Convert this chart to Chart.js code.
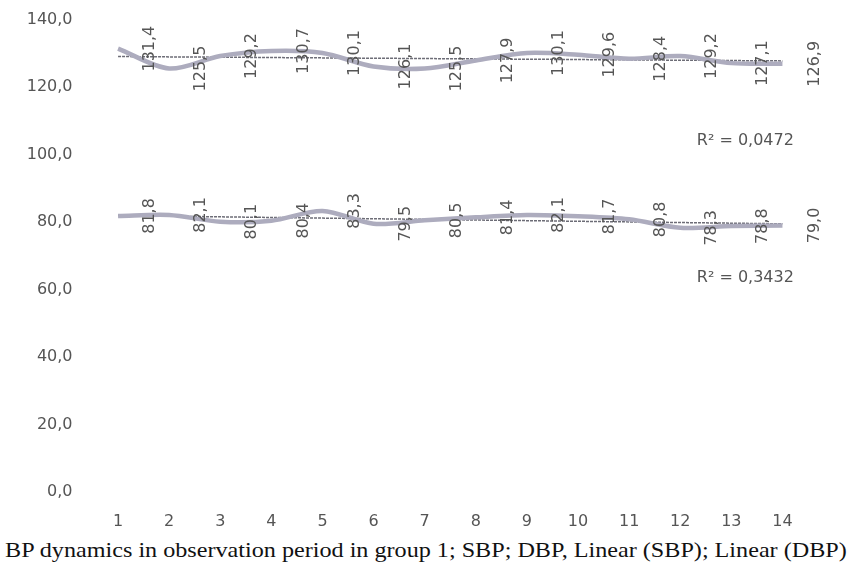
<!DOCTYPE html>
<html>
<head>
<meta charset="utf-8">
<script src="https://cdn.jsdelivr.net/npm/chart.js@4.4.1/dist/chart.umd.min.js"></script>
<style>
  body { margin: 0; background: #fff; overflow: hidden; }
  #wrap { position: relative; width: 851px; height: 547px; margin-top: -10px; }
  #caption {
    width: 851px; text-align: center; white-space: nowrap;
    font-family: "Liberation Serif", "Times New Roman", serif;
    font-size: 21px; color: #111; margin-top: 1px;
  }
  #caption span { display: inline-block; transform: scaleX(1.15); transform-origin: center; }
</style>
</head>
<body>
<div id="wrap"><canvas id="bpChart"></canvas></div>
<div id="caption"><span>BP dynamics in observation period in group 1; SBP; DBP, Linear (SBP); Linear (DBP)</span></div>
<script>
// data
var periods = ['1', '2', '3', '4', '5', '6', '7', '8', '9', '10', '11', '12', '13', '14'];
var sbp = [131.4, 125.5, 129.2, 130.7, 130.1, 126.1, 125.5, 127.9, 130.1, 129.6, 128.4, 129.2, 127.1, 126.9];
var dbp = [81.8, 82.1, 80.1, 80.4, 83.3, 79.5, 80.5, 81.4, 82.1, 81.7, 80.8, 78.3, 78.8, 79.0];
var yTicks = [0, 20, 40, 60, 80, 100, 120, 140];
var r2Sbp = 'R² = 0,0472';
var r2Dbp = 'R² = 0,3432';

// linear trend (least squares) like Excel's Linear trendline
function linearTrend(vals) {
    var n = vals.length, sx = 0, sy = 0, sxy = 0, sxx = 0;
    for (var i = 0; i < n; i++) {
        var x = i + 1;
        sx += x; sy += vals[i]; sxy += x * vals[i]; sxx += x * x;
    }
    var b = (n * sxy - sx * sy) / (n * sxx - sx * sx);
    var a = (sy - b * sx) / n;
    return vals.map(function (v, i) { return a + b * (i + 1); });
}

function fmt(v) {
    return v.toFixed(1).replace('.', ',');
}

var axisFont = { family: 'DejaVu Sans', size: 16 };
var textGray = '#555';

// rotated value labels, placed right of each point
var valueLabels = {
    id: 'valueLabels',
    afterDatasetsDraw: function (chart) {
        var ctx = chart.ctx;
        ctx.save();
        ctx.font = '16px "DejaVu Sans"';
        ctx.fillStyle = textGray;
        ctx.textAlign = 'center';
        ctx.textBaseline = 'middle';
        [0, 1].forEach(function (di) {
            var meta = chart.getDatasetMeta(di);
            var vals = chart.data.datasets[di].data;
            meta.data.forEach(function (pt, i) {
                ctx.save();
                ctx.translate(pt.x + 32, pt.y);
                ctx.rotate(-Math.PI / 2);
                ctx.fillText(fmt(vals[i]), 0, 0);
                ctx.restore();
            });
        });
        // R² texts
        var xs = chart.scales.x, ys = chart.scales.y;
        ctx.fillText(r2Sbp, xs.getPixelForValue(12) + 14, ys.getPixelForValue(104));
        ctx.fillText(r2Dbp, xs.getPixelForValue(12) + 14, ys.getPixelForValue(63.5));
        ctx.restore();
    }
};

var lineColor = '#adacbe';
var trendColor = '#6c6c76';

var bpChart = new Chart(document.getElementById('bpChart').getContext('2d'), {
    type: 'line',
    data: {
        labels: periods,
        datasets: [{
            label: 'SBP',
            data: sbp,
            borderColor: lineColor,
            borderWidth: 4.5,
            pointRadius: 0,
            tension: 0.3,
            fill: false
        }, {
            label: 'DBP',
            data: dbp,
            borderColor: lineColor,
            borderWidth: 4.5,
            pointRadius: 0,
            tension: 0.3,
            fill: false
        }, {
            label: 'Linear (SBP)',
            data: linearTrend(sbp),
            borderColor: trendColor,
            borderWidth: 1.5,
            borderDash: [3, 1],
            pointRadius: 0,
            fill: false
        }, {
            label: 'Linear (DBP)',
            data: linearTrend(dbp),
            borderColor: trendColor,
            borderWidth: 1.5,
            borderDash: [3, 1],
            pointRadius: 0,
            fill: false
        }]
    },
    options: {
        responsive: true,
        maintainAspectRatio: false,
        animation: false,
        layout: { padding: { top: 10, right: 43, left: 0, bottom: 0 } },
        plugins: {
            legend: { display: false },
            tooltip: { enabled: false }
        },
        scales: {
            x: {
                offset: true,
                grid: { display: false, drawTicks: false },
                border: { display: false },
                ticks: { font: axisFont, color: textGray, padding: 20, maxRotation: 0 },
                afterFit: function (s) { s.height = 45; }
            },
            y: {
                min: 0,
                max: 140,
                grid: { display: false, drawTicks: false },
                border: { display: false },
                afterBuildTicks: function (s) {
                    s.ticks = yTicks.map(function (v) { return { value: v }; });
                },
                ticks: {
                    font: axisFont,
                    color: textGray,
                    padding: 20,
                    callback: function (v) { return fmt(v); }
                },
                afterFit: function (s) { s.width = 92.5; }
            }
        }
    },
    plugins: [valueLabels]
});
</script>
</body>
</html>
